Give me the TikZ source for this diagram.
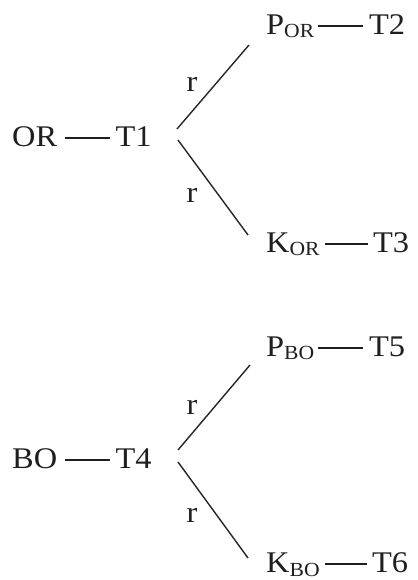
\documentclass[tikz,border=0pt]{standalone}
\usepackage{fontspec}
\setmainfont{Liberation Serif}[FakeStretch=1.08]
\newcommand{\subtxt}[1]{\raisebox{-3pt}{\fontsize{20}{20}\selectfont #1}}
\begin{document}
\begin{tikzpicture}[x=1pt,y=1pt,
  lbl/.style={anchor=base west,inner sep=0pt,font=\fontsize{30}{36}\selectfont,text=black!88},
  tlbl/.style={anchor=base,inner sep=0pt,font=\fontsize{30}{36}\selectfont,text=black!88},
  rlbl/.style={anchor=center,inner sep=0pt,font=\fontsize{30}{36}\selectfont,text=black!88},
  dashline/.style={line width=2pt,draw=black!88},
  branch/.style={line width=1.4pt,draw=black!85}]
\useasboundingbox[fill=white] (0,0) rectangle (417,580);
% upper tree
\node[lbl] (OR) at (12,433) {OR};
\node[tlbl] (T1) at (133.5,433) {T1};
\node[lbl] (POR) at (266,545) {P\subtxt{OR}};
\node[tlbl] (T2) at (387,545) {T2};
\node[lbl] (KOR) at (266,327) {K\subtxt{OR}};
\node[tlbl] (T3) at (391,327) {T3};
\node[rlbl] (r1) at (192,496) {r};
\node[rlbl] (r2) at (192,385) {r};
\coordinate (a1) at (177,451);
\coordinate (a2) at (249,535);
\coordinate (b1) at (178,440);
\coordinate (b2) at (248,345);
\draw[branch] (a1) -- (a2);
\draw[branch] (b1) -- (b2);
\draw[dashline] ([shift={(8pt,9pt)}]OR.base east) -- ([shift={(-5.5pt,9pt)}]T1.base west);
\draw[dashline] ([shift={(4pt,9pt)}]POR.base east) -- ([shift={(-6pt,9pt)}]T2.base west);
\draw[dashline] ([shift={(5.5pt,9pt)}]KOR.base east) -- ([shift={(-5pt,9pt)}]T3.base west);
% lower tree
\node[lbl] (BO) at (12,111) {BO};
\node[tlbl] (T4) at (133.5,111) {T4};
\node[lbl] (PBO) at (266,223) {P\subtxt{BO}};
\node[tlbl] (T5) at (387,223) {T5};
\node[lbl] (KBO) at (266,7) {K\subtxt{BO}};
\node[tlbl] (T6) at (390,7) {T6};
\node[rlbl] (r3) at (192,173) {r};
\node[rlbl] (r4) at (192,65) {r};
\coordinate (c1) at (178,130);
\coordinate (c2) at (250,215);
\coordinate (d1) at (178,118);
\coordinate (d2) at (248,22);
\draw[branch] (c1) -- (c2);
\draw[branch] (d1) -- (d2);
\draw[dashline] ([shift={(8pt,9pt)}]BO.base east) -- ([shift={(-5.5pt,9pt)}]T4.base west);
\draw[dashline] ([shift={(4pt,9pt)}]PBO.base east) -- ([shift={(-6pt,9pt)}]T5.base west);
\draw[dashline] ([shift={(5.5pt,9pt)}]KBO.base east) -- ([shift={(-5pt,9pt)}]T6.base west);
\end{tikzpicture}
\end{document}
